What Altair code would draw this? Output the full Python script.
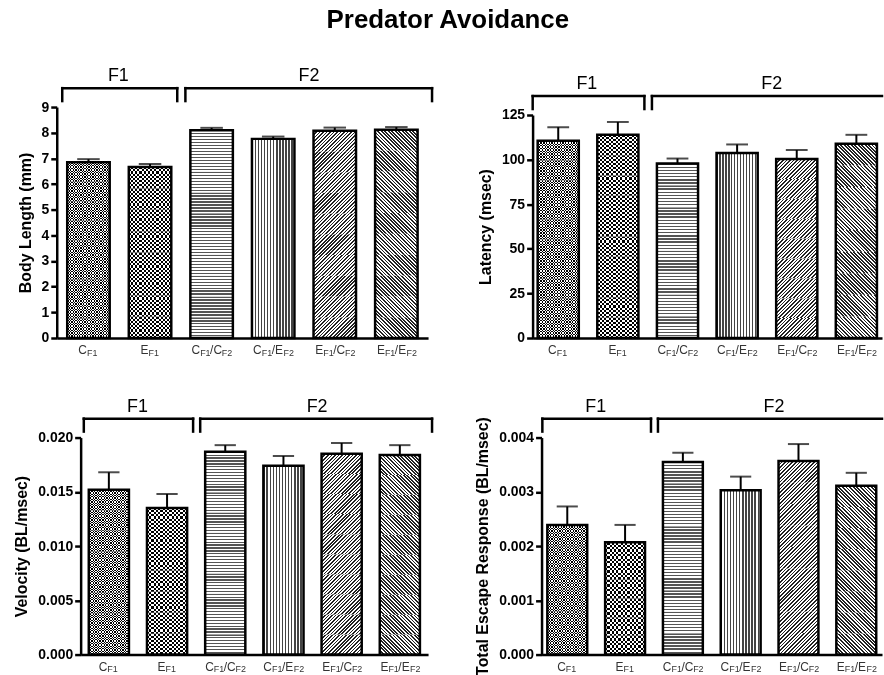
import math
import altair as alt
import pandas as pd

# ---------------- data ----------------
cats = ["CF1", "EF1", "CF1/CF2", "CF1/EF2", "EF1/CF2", "EF1/EF2"]
lab_b1 = ["C", "E", "C", "C", "E", "E"]
lab_s1 = ["F1", "F1", "F1", "F1", "F1", "F1"]
lab_b2 = ["", "", "/C", "/E", "/C", "/E"]
lab_s2 = ["", "", "F2", "F2", "F2", "F2"]

groups = ["F1", "F2"]
group_start = ["CF1", "CF1/CF2"]
group_end = ["EF1", "EF1/EF2"]
group_mid = ["EF1", "EF1/CF2"]

body_mean = [6.85, 6.66, 8.10, 7.76, 8.08, 8.12]
body_se = [0.12, 0.12, 0.09, 0.09, 0.12, 0.10]
body_ticks = [0, 1, 2, 3, 4, 5, 6, 7, 8, 9]

lat_mean = [110.6, 113.9, 97.8, 103.7, 100.3, 108.9]
lat_se = [7.6, 7.2, 2.8, 4.8, 5.1, 5.0]
lat_ticks = [0, 25, 50, 75, 100, 125]

vel_mean = [0.0152, 0.0135, 0.0187, 0.0174, 0.0185, 0.0184]
vel_se = [0.0016, 0.0013, 0.0006, 0.0009, 0.0010, 0.0009]
vel_ticks = [0.0, 0.005, 0.010, 0.015, 0.020]

esc_mean = [0.00239, 0.00207, 0.00355, 0.00303, 0.00357, 0.00311]
esc_se = [0.00034, 0.00032, 0.00017, 0.00025, 0.00031, 0.00024]
esc_ticks = [0.0, 0.001, 0.002, 0.003, 0.004]

FONT = "Liberation Sans"
PI = 0.31
SEG = 22  # pixel height of one fill segment (pattern rendering only)


# ---------------- pattern helpers (fills only) ----------------
def stripe_stops(n, duty, dark, light):
    stops = []
    for i in range(n):
        t0 = round(i / n, 5)
        t1 = round((i + duty) / n, 5)
        t2 = round((i + 1) / n, 5)
        stops += [
            {"offset": t0, "color": dark},
            {"offset": t1, "color": dark},
            {"offset": t1, "color": light},
            {"offset": t2, "color": light},
        ]
    return stops


def grad_h(h, period, duty, dark, light):
    n = max(1, round(h / period))
    return {"gradient": "linear", "x1": 0, "y1": 0, "x2": 0, "y2": 1,
            "stops": stripe_stops(n, duty, dark, light)}


def grad_v(w, period, duty, dark, light):
    n = max(1, round(w / period))
    return {"gradient": "linear", "x1": 0, "y1": 0, "x2": 1, "y2": 0,
            "stops": stripe_stops(n, duty, dark, light)}


def grad_d(w, h, period, duty, dark, light, slash=True):
    a = w / h
    k = (a + 1) / (a * a + 1)
    n = max(1, round((w + h) / math.sqrt(2) / period))
    if slash:
        g = {"x1": 0, "y1": 0, "x2": round(a * k, 5), "y2": round(k, 5)}
    else:
        g = {"x1": 0, "y1": 1, "x2": round(a * k, 5), "y2": round(1 - k, 5)}
    g.update({"gradient": "linear", "stops": stripe_stops(n, duty, dark, light)})
    return g


def fills_for(i, bw, hs):
    # returns list of (fill, blend, segmented)
    if i == 0:
        return [(grad_v(bw, 2.7, 0.5, "#000000", "#ffffff"), None, False),
                (grad_h(hs, 2.7, 0.5, "#ffffff", "#000000"), "difference", True)]
    if i == 1:
        return [(grad_v(bw, 4.4, 0.5, "#000000", "#ffffff"), None, False),
                (grad_h(hs, 4.4, 0.5, "#ffffff", "#000000"), "difference", True)]
    if i == 2:
        return [(grad_h(hs, 3.0, 0.45, "#555555", "#ffffff"), None, True)]
    if i == 3:
        return [(grad_v(bw, 3.0, 0.42, "#444444", "#ffffff"), None, False)]
    if i == 4:
        return [(grad_d(bw, hs, 2.5, 0.45, "#222222", "#ffffff", True), None, True)]
    return [(grad_d(bw, hs, 2.5, 0.5, "#222222", "#ffffff", False), None, True)]


# ---------------- panel ----------------
def panel(values, errs, ymax, ticks, fmt, ytitle, W, H, po,
          f1_dx=-10.5, f2_dx=-4.5, f2_end=4, top_extra=None):
    step = W / (6 - PI + 2 * po)
    bw = step * (1 - PI)

    df = pd.DataFrame({
        "cat": cats, "val": values,
        "hi": [v + e for v, e in zip(values, errs)],
        "b1": lab_b1, "s1": lab_s1, "b2": lab_b2, "s2": lab_s2,
    })
    brk = pd.DataFrame({"g": groups, "start": group_start,
                        "end": group_end, "mid": group_mid})

    xs = alt.Scale(domain=cats, paddingInner=PI, paddingOuter=po)
    x_axis = alt.Axis(labels=False, ticks=False, title=None, grid=False,
                      domain=True, domainWidth=2.5, domainColor="black")

    def X(field="cat", bp=None):
        kw = {}
        if bp is not None:
            kw["bandPosition"] = bp
        return alt.X(f"{field}:N", scale=xs, axis=x_axis, title=None, **kw)

    ys = alt.Scale(domain=[0, ymax], nice=False, zero=True)
    y_axis = alt.Axis(values=ticks, format=fmt, title=ytitle, grid=False,
                      labelOverlap=False)

    def Y(field="val"):
        return alt.Y(f"{field}:Q", scale=ys, axis=y_axis, title=ytitle)

    base = alt.Chart(df)
    layers = []
    for i, c in enumerate(cats):
        v = values[i]
        h = v / ymax * H
        k = max(1, math.ceil(h / SEG))
        hs = h / k
        seg = pd.DataFrame({
            "cat": [c] * k,
            "y0": [v * j / k for j in range(k)],
            "y1": [v * (j + 1) / k for j in range(k)],
        })
        for fill, blend, segmented in fills_for(i, bw, hs):
            kw = {"fill": fill, "strokeWidth": 0}
            if blend:
                kw["blend"] = blend
            if segmented:
                layers.append(
                    alt.Chart(seg).mark_bar(**kw)
                    .encode(x=X(), y=Y("y0"), y2="y1:Q")
                )
            else:
                layers.append(
                    base.transform_filter(alt.datum.cat == c)
                    .mark_bar(**kw).encode(x=X(), y=Y())
                )
    # outlines
    layers.append(base.mark_bar(fillOpacity=0, stroke="black", strokeWidth=2.5)
                  .encode(x=X(), y=Y()))
    # error bars
    layers.append(base.mark_rule(color="black", strokeWidth=2)
                  .encode(x=X(), y=Y(), y2="hi:Q"))
    layers.append(base.mark_tick(color="black", thickness=2, size=bw * 0.53)
                  .encode(x=X(), y=Y("hi")))

    # brackets
    bb = alt.Chart(brk)
    rk = dict(color="black", strokeWidth=2.5, strokeCap="square")
    layers.append(bb.transform_filter(alt.datum.g == "F1")
                  .mark_rule(xOffset=-5, x2Offset=6, **rk)
                  .encode(x=X("start", 0), x2=alt.X2("end:N", bandPosition=1),
                          y=alt.value(-19)))
    layers.append(bb.transform_filter(alt.datum.g == "F2")
                  .mark_rule(xOffset=-5, **rk)
                  .encode(x=X("start", 0), x2=alt.value(W + f2_end), y=alt.value(-19)))
    layers.append(bb.mark_rule(xOffset=-5, **rk)
                  .encode(x=X("start", 0), y=alt.value(-19), y2=alt.value(-6)))
    layers.append(bb.transform_filter(alt.datum.g == "F1").mark_rule(xOffset=6, **rk)
                  .encode(x=X("end", 1), y=alt.value(-19), y2=alt.value(-6)))
    if f2_end >= 4:
        layers.append(bb.transform_filter(alt.datum.g == "F2").mark_rule(**rk)
                      .encode(x=alt.value(W + f2_end), y=alt.value(-19), y2=alt.value(-6)))
    tk = dict(font=FONT, fontSize=18, color="black", align="center", baseline="alphabetic")
    layers.append(bb.transform_filter(alt.datum.g == "F1").mark_text(dx=f1_dx, **tk)
                  .encode(x=X("mid", 0), y=alt.value(-26), text="g:N"))
    layers.append(bb.transform_filter(alt.datum.g == "F2").mark_text(dx=f2_dx, **tk)
                  .encode(x=X("mid", 0), y=alt.value(-26), text="g:N"))

    # x tick labels with subscripts
    lt = dict(font=FONT, color="#333333", baseline="middle")
    single = base.transform_filter(alt.datum.b2 == "")
    comp = base.transform_filter(alt.datum.b2 != "")
    yl = alt.value(H + 12)
    ysub = alt.value(H + 15)
    layers.append(single.mark_text(align="right", dx=-1.5, fontSize=12, **lt)
                  .encode(x=X(), y=yl, text="b1:N"))
    layers.append(single.mark_text(align="left", dx=-1.5, fontSize=9, **lt)
                  .encode(x=X(), y=ysub, text="s1:N"))
    layers.append(comp.mark_text(align="right", dx=-11.5, fontSize=12, **lt)
                  .encode(x=X(), y=yl, text="b1:N"))
    layers.append(comp.mark_text(align="left", dx=-11.5, fontSize=9, **lt)
                  .encode(x=X(), y=ysub, text="s1:N"))
    layers.append(comp.mark_text(align="left", dx=-1.5, fontSize=12, **lt)
                  .encode(x=X(), y=yl, text="b2:N"))
    layers.append(comp.mark_text(align="left", dx=10.3, fontSize=9, **lt)
                  .encode(x=X(), y=ysub, text="s2:N"))

    if top_extra is not None:
        layers.append(bb.transform_filter(alt.datum.g == "F1")
                      .mark_rule(strokeOpacity=0, strokeWidth=1)
                      .encode(x=alt.value(0), y=alt.value(top_extra), y2=alt.value(-30)))

    return alt.layer(*layers).properties(width=W, height=H)


def spacer():
    return (alt.Chart(pd.DataFrame({"v": [0]}))
            .mark_point(opacity=0, size=0)
            .encode(x=alt.value(0), y=alt.value(0))
            .properties(width=1, height=1))


tl = panel(body_mean, body_se, 9, body_ticks, "d", "Body Length (mm)",
           373, 232, 0.17, f1_dx=-10.5, f2_dx=-4.5)
tr = panel(lat_mean, lat_se, 125, lat_ticks, "d", "Latency (msec)",
           351, 224, 0.085, f1_dx=-10.5, f2_dx=-4.5, f2_end=0, top_extra=-48)
bl = panel(vel_mean, vel_se, 0.02, vel_ticks, ".3f", "Velocity (BL/msec)",
           349, 218, 0.14, f1_dx=-9.5, f2_dx=-4.5)
br = panel(esc_mean, esc_se, 0.004, esc_ticks, ".3f", "Total Escape Response (BL/msec)",
           342, 218, 0.10, f1_dx=-9.5, f2_dx=-4.5, f2_end=0)

row1 = alt.hconcat(
    spacer(),
    alt.hconcat(alt.vconcat(spacer(), tl, spacing=0),
                alt.vconcat(spacer(), tr, spacing=0), spacing=43),
    spacing=4,
)
row2 = alt.hconcat(spacer(), alt.hconcat(bl, br, spacing=40), spacing=0)

chart = (
    alt.vconcat(row1, row2, spacing=40)
    .properties(
        title=alt.Title("Predator Avoidance", font=FONT, fontSize=26,
                        fontWeight="bold", color="black", anchor="middle", offset=33),
        padding={"left": 12, "top": 6, "right": 0, "bottom": 0},
    )
    .configure_view(stroke=None)
    .configure_axisY(
        domainWidth=2.5, domainColor="black", tickWidth=2.5, tickColor="black",
        tickSize=6, labelFont=FONT, labelFontSize=14, labelFontWeight="bold",
        labelColor="black", labelPadding=2, titleFont=FONT, titleFontSize=16,
        titleFontWeight="bold", titleColor="black", titlePadding=8,
    )
)

chart.save("out.html", embed_options={"renderer": "svg", "actions": False})
